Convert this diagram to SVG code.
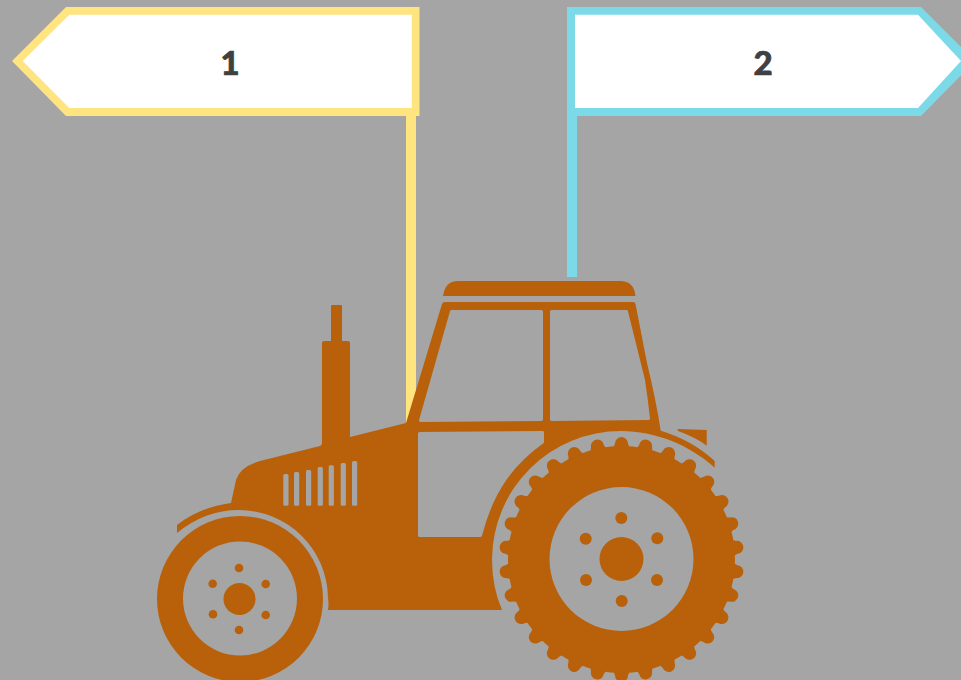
<svg xmlns="http://www.w3.org/2000/svg" xmlns:xlink="http://www.w3.org/1999/xlink" width="961" height="680" viewBox="0 0 961 680">
<style>
.o{fill:#B8610A}
.h{fill:#A5A5A5}
.hs{fill:#A5A5A5;stroke:#A5A5A5;stroke-width:3;stroke-linejoin:round}
.y{fill:#FFE480}
.b{fill:#7CDAE8}
.w{fill:#FFFFFF}
.t{font-family:"Lato","Open Sans",sans-serif;font-weight:900;font-size:33px;fill:#404040;stroke:#404040;stroke-width:.7px;text-anchor:middle}
</style>
<defs>
<path id="lug" d="M-8 -112 L-6.500 -116 A6.500 6.500 0 0 1 6.500 -116 L8 -112 Z"/>
</defs>
<rect width="961" height="680" class="h"/>
<g id="connectors">
<rect x="406" y="110" width="10" height="320" class="y"/>
<rect x="567" y="110" width="10" height="167" class="b"/>
</g>
<g id="node-1">
<polygon class="y" points="66,7 419.500,7 419.500,116 66,116 12,61"/>
<polygon class="w" points="69.300,14.700 411.800,14.700 411.800,108 69.300,108 22.700,61"/>
<text class="t" x="230" y="75">1</text>
</g>
<g id="node-2">
<polygon class="b" points="567,7 921,7 975,61 921,116 567,116"/>
<polygon class="w" points="575,14.700 918,14.700 961,61 918,108 575,108"/>
<text class="t" x="763" y="75">2</text>
</g>
<g id="tractor">
<path class="o" d="M443 296 Q445 281 458 281 L620 281 Q634 281 635.500 296 Z"/>
<path class="o" d="M331 306 Q331 305 332 305 L341 305 Q342 305 342 306 L342 341 L348 341 Q350 341 350 343 L350 437 L406 423 L442 304 Q443 302 445 302 L633 302 Q635 302 635.500 304 L647 363 Q656 400 660.700 430.700 Q692 440 714.700 461 L714.700 467.700 C690 445 655 431 621 431 A129 129 0 0 0 492 559 Q492 587 502 610 L328 610 Q329 604 328 598 A89 89 0 0 0 239 510 Q205 510 177 533 L177 525 Q200 507 231 503 L236 480 Q240 467 260 461 L320 446 Q322 445 322 443 L322 343 Q322 341 324 341 L331 341 Z"/>
<path class="o" d="M677.300 429 L706.700 430 L706.700 445.700 Q695 437 678 431 Z"/>
<path class="hs" d="M451.500 311.500 L541.500 311.500 L541.500 419.500 L420.500 420.500 Z"/>
<path class="hs" d="M551.500 311.500 L626.500 311.500 L643.500 380 Q646.500 400 648.500 418.500 L551.500 419.500 Z"/>
<path class="hs" d="M419.500 433.500 L542.500 432.500 L542.500 442 C513 463 492 490 480.500 535.500 L419.500 535.500 Z"/>
<g class="h">
<rect x="283.300" y="474" width="5.200" height="31.700" rx="1.500"/>
<rect x="294" y="472" width="5.200" height="33.700" rx="1.500"/>
<rect x="306" y="470" width="5.200" height="35.700" rx="1.500"/>
<rect x="317.700" y="467" width="5.200" height="38.700" rx="1.500"/>
<rect x="328.700" y="465.300" width="5.200" height="40.400" rx="1.500"/>
<rect x="340.700" y="463" width="5.200" height="42.700" rx="1.500"/>
<rect x="352" y="461" width="5.200" height="44.700" rx="1.500"/>
</g>
<circle class="o" cx="240" cy="599" r="83"/>
<circle class="h" cx="240" cy="598.500" r="57"/>
<g class="o">
<circle cx="239.500" cy="599" r="16"/>
<circle cx="239" cy="568" r="4.300"/>
<circle cx="212.700" cy="583.700" r="4.300"/>
<circle cx="265.700" cy="584" r="4.300"/>
<circle cx="213" cy="614.300" r="4.300"/>
<circle cx="265.700" cy="615" r="4.300"/>
<circle cx="239" cy="630" r="4.300"/>
</g>
<g class="o" transform="translate(621.500 559.500)">
<circle r="113.500"/>
<use xlink:href="#lug" href="#lug" transform="rotate(0)"/><use xlink:href="#lug" href="#lug" transform="rotate(12)"/><use xlink:href="#lug" href="#lug" transform="rotate(24)"/><use xlink:href="#lug" href="#lug" transform="rotate(36)"/><use xlink:href="#lug" href="#lug" transform="rotate(48)"/><use xlink:href="#lug" href="#lug" transform="rotate(60)"/><use xlink:href="#lug" href="#lug" transform="rotate(72)"/><use xlink:href="#lug" href="#lug" transform="rotate(84)"/><use xlink:href="#lug" href="#lug" transform="rotate(96)"/><use xlink:href="#lug" href="#lug" transform="rotate(108)"/><use xlink:href="#lug" href="#lug" transform="rotate(120)"/><use xlink:href="#lug" href="#lug" transform="rotate(132)"/><use xlink:href="#lug" href="#lug" transform="rotate(144)"/><use xlink:href="#lug" href="#lug" transform="rotate(156)"/><use xlink:href="#lug" href="#lug" transform="rotate(168)"/><use xlink:href="#lug" href="#lug" transform="rotate(180)"/><use xlink:href="#lug" href="#lug" transform="rotate(192)"/><use xlink:href="#lug" href="#lug" transform="rotate(204)"/><use xlink:href="#lug" href="#lug" transform="rotate(216)"/><use xlink:href="#lug" href="#lug" transform="rotate(228)"/><use xlink:href="#lug" href="#lug" transform="rotate(240)"/><use xlink:href="#lug" href="#lug" transform="rotate(252)"/><use xlink:href="#lug" href="#lug" transform="rotate(264)"/><use xlink:href="#lug" href="#lug" transform="rotate(276)"/><use xlink:href="#lug" href="#lug" transform="rotate(288)"/><use xlink:href="#lug" href="#lug" transform="rotate(300)"/><use xlink:href="#lug" href="#lug" transform="rotate(312)"/><use xlink:href="#lug" href="#lug" transform="rotate(324)"/><use xlink:href="#lug" href="#lug" transform="rotate(336)"/><use xlink:href="#lug" href="#lug" transform="rotate(348)"/>
</g>
<circle class="h" cx="621.500" cy="559" r="72"/>
<g class="o">
<circle cx="621.500" cy="559" r="22"/>
<circle cx="621.300" cy="518" r="6"/>
<circle cx="585.700" cy="538.700" r="6"/>
<circle cx="657.300" cy="538.300" r="6"/>
<circle cx="586" cy="580" r="6"/>
<circle cx="657" cy="580" r="6"/>
<circle cx="621.700" cy="601" r="6"/>
</g>
</g>
</svg>
